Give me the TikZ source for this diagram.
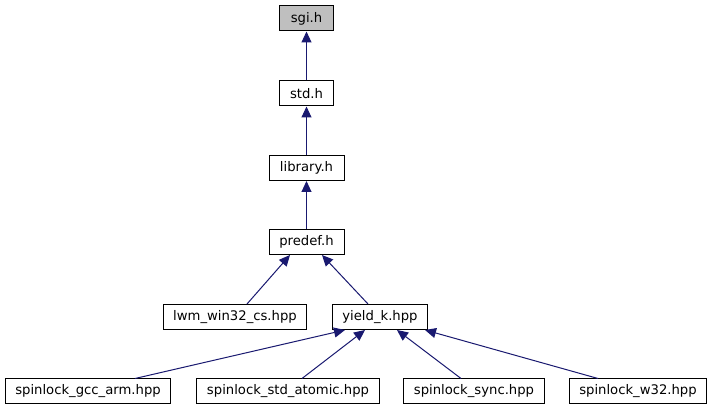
\documentclass[tikz,border=0pt]{standalone}
\usepackage{fontspec}
\setmainfont{DejaVu Sans}
\usetikzlibrary{arrows.meta}
\definecolor{edgeblue}{HTML}{191970}
\definecolor{rootgrey}{HTML}{BFBFBF}
\begin{document}
\begin{tikzpicture}[x=1pt,y=-1pt,
  filebox/.style={draw=black,line width=1pt,fill=white,inner xsep=10pt,inner ysep=0pt,
    minimum height=25pt,font=\fontsize{13.2}{16}\selectfont},
  rootbox/.style={filebox,fill=rootgrey},
  dep/.style={draw=edgeblue,line width=1pt,-{Triangle[length=11pt,width=10pt]}}]
\useasboundingbox[fill=white] (0,0) rectangle (713,411);
\node[rootbox,minimum width=54pt] (sgi) at (306.5,18.5) {sgi.h};
\node[filebox,minimum width=54pt] (std) at (306.5,93.5) {std.h};
\node[filebox,minimum width=75pt] (lib) at (306.5,168) {library.h};
\node[filebox,minimum width=75pt] (predef) at (306.5,242) {predef.h};
\node[filebox] (lwm) at (235,317) {lwm\_win32\_cs.hpp};
\node[filebox] (yield) at (380,317) {yield\_k.hpp};
\node[filebox] (gcc) at (88,391.5) {spinlock\_gcc\_arm.hpp};
\node[filebox] (atomic) at (288,391.5) {spinlock\_std\_atomic.hpp};
\node[filebox] (sync) at (474,391.5) {spinlock\_sync.hpp};
\node[filebox] (w32) at (638,391.5) {spinlock\_w32.hpp};
\draw[dep] (std.north) -- (sgi.south);
\draw[dep] (lib.north) -- (std.south);
\draw[dep] (predef.north) -- (lib.south);
\draw[dep] ([xshift=12pt]lwm.north) -- ([xshift=-16.5pt]predef.south);
\draw[dep] ([xshift=-12pt]yield.north) -- ([xshift=15.5pt]predef.south);
\draw[dep] ([xshift=47pt]gcc.north) -- ([xshift=-35pt]yield.south);
\draw[dep] ([xshift=14pt]atomic.north) -- ([xshift=-15pt]yield.south);
\draw[dep] ([xshift=-13pt]sync.north) -- ([xshift=17pt]yield.south);
\draw[dep] ([xshift=-40pt]w32.north) -- ([xshift=45pt]yield.south);
\end{tikzpicture}
\end{document}
